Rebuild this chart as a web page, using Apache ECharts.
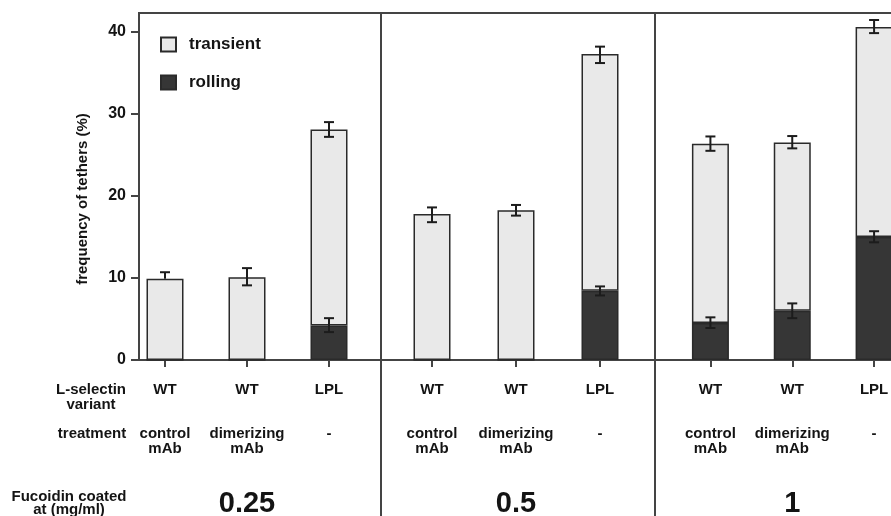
<!DOCTYPE html>
<html>
<head>
<meta charset="utf-8">
<script src="https://cdn.jsdelivr.net/npm/echarts@6/dist/echarts.min.js"></script>
<style>
  html, body { margin: 0; padding: 0; background: #fff; }
  #chart { width: 891px; height: 516px; }
</style>
</head>
<body>
<div id="chart"></div>
<script>
// Tether frequencies on fucoidin, split into rolling and transient tethers
const treatments = ['control\nmAb', 'dimerizing\nmAb', '-'];
const variants = ['WT', 'WT', 'LPL'];
const concentrations = ['0.25', '0.5', '1'];
const yTicks = [0, 10, 20, 30, 40];

// one row per coating concentration, one value per bar (%)
const rolling = [
  [0, 0, 4.2],
  [0, 0, 8.45],
  [4.5, 6.0, 15.0]
];
const transient = [
  [9.9, 10.1, 23.9],
  [17.8, 18.25, 28.85],
  [21.85, 20.5, 25.6]
];
// error bar ends for the stacked total
const totalHigh = [
  [10.7, 11.2, 29.0],
  [18.6, 18.9, 38.2],
  [27.25, 27.3, 41.45]
];
const totalLow = [
  [null, 9.1, 27.2],
  [16.8, 17.6, 36.2],
  [25.5, 25.8, 39.85]
];
// error bar ends for the rolling part
const rollingHigh = [
  [null, null, 5.1],
  [null, null, 8.97],
  [5.2, 6.9, 15.7]
];
const rollingLow = [
  [null, null, 3.4],
  [null, null, 7.87],
  [3.9, 5.1, 14.35]
];

const FONT = '"Liberation Sans", Arial, Helvetica, sans-serif';
const INK = '#141414';
const LINE = '#444';
const Y_MAX = 42.3;

const panelGrids = [
  { left: 124, width: 246 },
  { left: 390, width: 252 },
  { left: 669.5, width: 245.5 }
];

const chart = echarts.init(document.getElementById('chart'), null, { renderer: 'canvas' });

const grid = [
  // frame around all panels, carrying the value axis
  { left: 139, right: -40, top: 13, bottom: 156, outerBoundsMode: 'none', containLabel: false,
    show: true, borderColor: LINE, borderWidth: 2, backgroundColor: 'transparent' }
];
const xAxis = [
  { gridIndex: 0, type: 'value', min: 0, max: 1, show: false }
];
const yAxis = [
  {
    gridIndex: 0, type: 'value', min: 0, max: Y_MAX, interval: 10,
    axisLine: { show: true, lineStyle: { color: LINE, width: 2 } },
    axisTick: { show: true, length: 8, customValues: yTicks, lineStyle: { color: LINE, width: 2 } },
    axisLabel: { customValues: yTicks, margin: 13, color: INK, fontFamily: FONT, fontWeight: 'bold', fontSize: 16 },
    splitLine: { show: false }
  }
];
const series = [];

const barKeys = treatments.map((t, i) => 'k' + i);

function errorBars(highs, lows) {
  return function (params, api) {
    const i = api.value(0);
    const hi = highs[i];
    const lo = lows[i];
    const children = [];
    const style = { stroke: '#1c1c1c', lineWidth: 2 };
    const cap = 5;
    const top = api.coord([i, hi]);
    const mid = api.coord([i, api.value(1)]);
    const bottom = lo == null ? mid : api.coord([i, lo]);
    children.push({ type: 'line', shape: { x1: top[0], y1: top[1], x2: bottom[0], y2: bottom[1] }, style });
    children.push({ type: 'line', shape: { x1: top[0] - cap, y1: top[1], x2: top[0] + cap, y2: top[1] }, style });
    if (lo != null) {
      children.push({ type: 'line', shape: { x1: bottom[0] - cap, y1: bottom[1], x2: bottom[0] + cap, y2: bottom[1] }, style });
    }
    return { type: 'group', children };
  };
}

panelGrids.forEach((pg, p) => {
  const gi = p + 1;
  grid.push({ left: pg.left, width: pg.width, top: 13, bottom: 156, outerBoundsMode: 'none', containLabel: false });
  // variant labels with ticks
  xAxis.push({
    gridIndex: gi, type: 'category', data: barKeys, position: 'bottom',
    axisLine: { show: false },
    axisTick: { show: true, alignWithLabel: true, length: 7, lineStyle: { color: LINE, width: 2 } },
    axisLabel: {
      interval: 0, hideOverlap: false,
      margin: 22, color: INK, fontFamily: FONT, fontWeight: 'bold', fontSize: 15,
      formatter: (v, idx) => variants[idx]
    }
  });
  // treatment labels and coating concentration
  xAxis.push({
    gridIndex: gi, type: 'category', data: barKeys, position: 'bottom',
    axisLine: { show: false }, axisTick: { show: false },
    axisLabel: {
      interval: 0, hideOverlap: false,
      margin: 66, color: INK, fontFamily: FONT, fontWeight: 'bold', fontSize: 15, lineHeight: 15,
      formatter: (v, idx) => treatments[idx]
    },
    name: concentrations[p], nameLocation: 'middle', nameGap: 129,
    nameTextStyle: { color: INK, fontFamily: FONT, fontWeight: 'bold', fontSize: 29 }
  });
  yAxis.push({ gridIndex: gi, type: 'value', min: 0, max: Y_MAX, show: false, splitLine: { show: false } });

  const xi = p * 2 + 1;
  series.push({
    name: 'rolling', type: 'bar', xAxisIndex: xi, yAxisIndex: gi, stack: 'tethers' + p,
    barWidth: 37, data: rolling[p],
    itemStyle: { color: '#363636', borderColor: '#2a2a2a', borderWidth: 1.5 }
  });
  series.push({
    name: 'transient', type: 'bar', xAxisIndex: xi, yAxisIndex: gi, stack: 'tethers' + p,
    barWidth: 37, data: transient[p],
    itemStyle: { color: '#e9e9e9', borderColor: '#2a2a2a', borderWidth: 1.5 }
  });
  const totals = transient[p].map((t, i) => t + rolling[p][i]);
  series.push({
    type: 'custom', xAxisIndex: xi, yAxisIndex: gi, z: 5, silent: true,
    renderItem: errorBars(totalHigh[p], totalLow[p]),
    data: totals.map((v, i) => [i, v])
  });
  const rollIdx = rolling[p].map((v, i) => i).filter(i => rollingHigh[p][i] != null);
  series.push({
    type: 'custom', xAxisIndex: xi, yAxisIndex: gi, z: 5, silent: true,
    renderItem: errorBars(rollingHigh[p], rollingLow[p]),
    data: rollIdx.map(i => [i, rolling[p][i]])
  });
});

function label(text, x, y, opts) {
  return Object.assign({
    type: 'text', x, y, silent: true,
    style: Object.assign({
      text, fill: INK, fontFamily: FONT, fontWeight: 'bold', fontSize: 15, lineHeight: 15,
      align: 'center', verticalAlign: 'top'
    }, opts || {})
  });
}

const graphic = [
  { type: 'line', silent: true, shape: { x1: 381, y1: 13, x2: 381, y2: 516 }, style: { stroke: LINE, lineWidth: 2 } },
  { type: 'line', silent: true, shape: { x1: 655, y1: 13, x2: 655, y2: 516 }, style: { stroke: LINE, lineWidth: 2 } },
  label('L-selectin\nvariant', 91, 382),
  label('treatment', 92, 426.5),
  label('Fucoidin coated\nat (mg/ml)', 69, 490, { lineHeight: 13.5 }),
  {
    type: 'text', x: 83, y: 199, rotation: Math.PI / 2, silent: true,
    style: { text: 'frequency of tethers (%)', fill: INK, fontFamily: FONT, fontWeight: 'bold', fontSize: 15, align: 'center', verticalAlign: 'middle' }
  }
];

chart.setOption({
  animation: false,
  backgroundColor: '#fff',
  grid, xAxis, yAxis, series, graphic,
  legend: {
    data: ['transient', 'rolling'],
    orient: 'vertical', left: 160, top: 36, padding: 0,
    itemWidth: 15, itemHeight: 14, itemGap: 21,
    icon: 'rect',
    selectedMode: false,
    textStyle: { color: INK, fontFamily: FONT, fontWeight: 'bold', fontSize: 17, padding: [0, 0, 0, 8] }
  }
});
</script>
</body>
</html>
